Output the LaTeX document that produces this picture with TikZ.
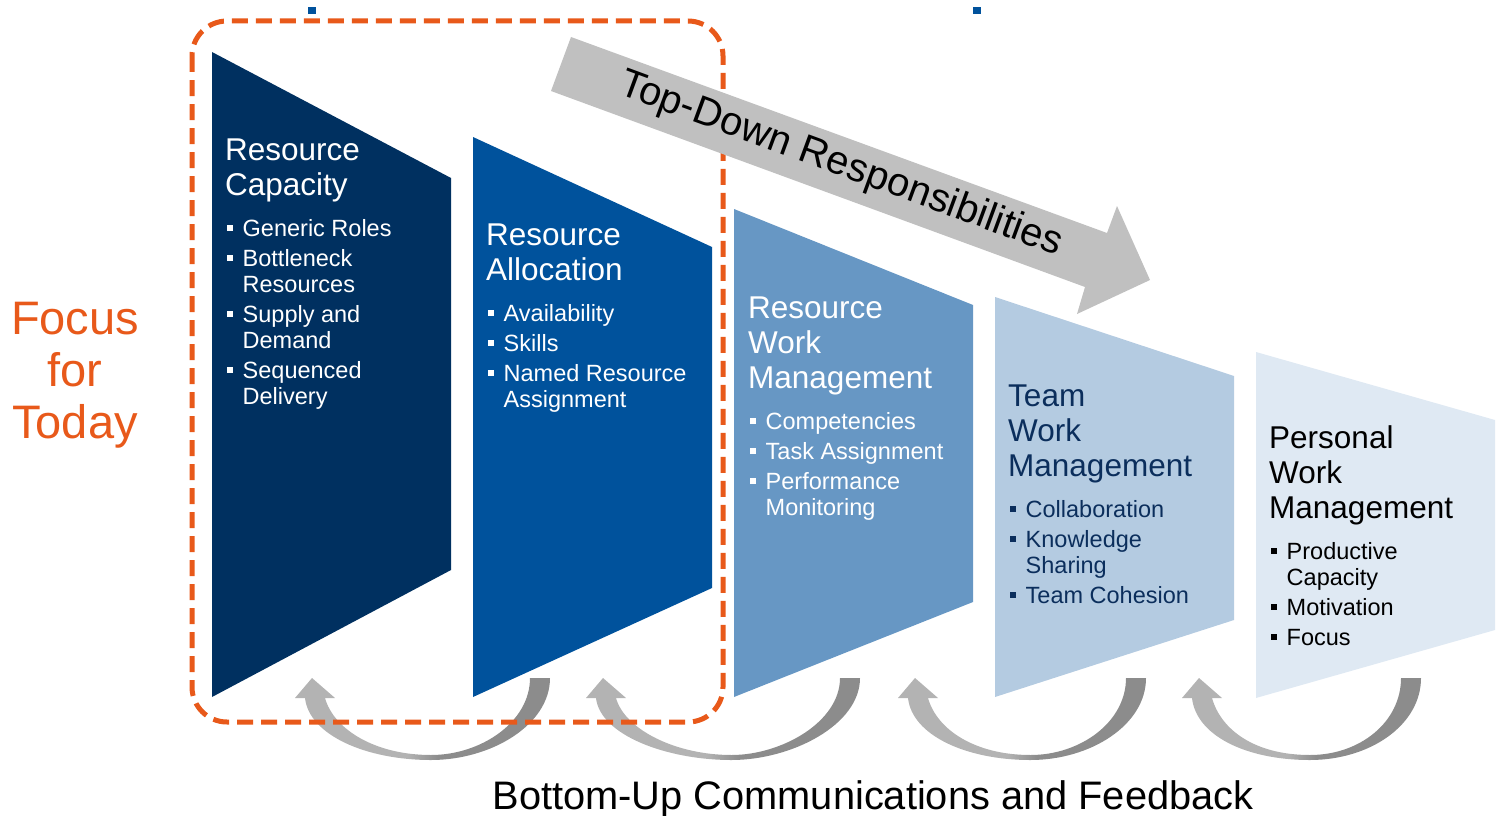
\documentclass[tikz,border=0pt]{standalone}
\usepackage{fontspec}
\setmainfont{Liberation Sans}
\usetikzlibrary{calc}

\definecolor{capblue}{HTML}{003060}
\definecolor{allocblue}{HTML}{00529C}
\definecolor{rwmblue}{HTML}{6797C4}
\definecolor{twmblue}{HTML}{B4CBE1}
\definecolor{pwmblue}{HTML}{DFE9F3}
\definecolor{twmtext}{HTML}{0B2E5C}
\definecolor{focusorange}{HTML}{E8591A}
\definecolor{tdgray}{HTML}{C0C0C0}
\definecolor{fblight}{HTML}{B3B3B3}
\definecolor{fbdark}{HTML}{8C8C8C}
\pgfdeclarehorizontalshading{fbshade}{100bp}{color(0bp)=(fblight); color(47bp)=(fblight); color(53bp)=(fbdark); color(100bp)=(fbdark)}

\newcommand{\ptitle}[1]{{\fontsize{31.5}{35}\selectfont #1\par}\vspace{11pt}\fontsize{23.5}{26}\selectfont\parskip=4pt}
\newcommand{\pitem}[1]{\par\hangindent=17.5pt\hangafter=1\noindent\makebox[17.5pt][l]{\hspace*{1.5pt}\rule[5.5pt]{6pt}{6pt}}#1}
\newcommand{\pbox}[1]{\parbox[t]{300pt}{\parskip=0pt\raggedright #1}}
% feedback arrow: head tip x, tail outer x
\def\fbarrow(#1:#2){%
	\pgfmathsetmacro\fbm{(#1+#2)/2}
	\shade[shading=fbshade] (#2,678) .. controls (#2,725) and (\fbm+60,760) .. (\fbm,760)
		.. controls (\fbm-65,760) and (#1-3,735) .. (#1-7,698) -- (#1-17,698) -- (#1,678) -- (#1+23,698) -- (#1+13,698)
		.. controls (#1+22,730) and (\fbm-55,755) .. (\fbm,755)
		.. controls (\fbm+50,755) and (#2-20,722) .. (#2-20,678) -- cycle;}

\begin{document}
\begin{tikzpicture}[x=1pt, y=-1pt,
	ptext/.style={anchor=base west, inner sep=0pt}]
		%%%%% START %%%%%
		\useasboundingbox (0,0) rectangle (1496,816);
		
		\fbarrow(312:550)
		\fbarrow(603:860)
		\fbarrow(915:1146)
		\fbarrow(1199:1421)
		
		\fill[capblue] (212,52) -- (451,178) -- (451,570) -- (212,697) -- cycle;
		\fill[allocblue] (473,137) -- (712,247) -- (712,588) -- (473,697) -- cycle;
		\fill[rwmblue] (734,209) -- (973,305) -- (973,602) -- (734,697) -- cycle;
		\fill[twmblue] (995,297) -- (1234,376) -- (1234,620) -- (995,697) -- cycle;
		\fill[pwmblue] (1256,352) -- (1495,420) -- (1495,630) -- (1256,698) -- cycle;
		
		\fill[allocblue] (308,7) rectangle (316,14);
		\fill[allocblue] (973,7) rectangle (981,14);
		
		\draw[focusorange, line width=5pt, dash pattern=on 16pt off 8pt, rounded corners=35pt] (192,21) rectangle (723,722);
		
		\fill[tdgray] (571,37) -- (1107,233) -- (1117,206) -- (1150,280) -- (1077,314) -- (1085,287) -- (551,91) -- cycle;
		\node[rotate=-20.2, font=\fontsize{40}{42}\selectfont] (topdown) at (841,165) {Top-Down Responsibilities};
		
		\node[ptext, text=white] (capacity) at (225,160) {\pbox{\ptitle{Resource\\Capacity}
			\pitem{Generic Roles}
			\pitem{Bottleneck\newline Resources}
			\pitem{Supply and\newline Demand}
			\pitem{Sequenced\newline Delivery}}};
		\node[ptext, text=white] (allocation) at (486,245) {\pbox{\ptitle{Resource\\Allocation}
			\pitem{Availability}
			\pitem{Skills}
			\pitem{Named Resource\newline Assignment}}};
		\node[ptext, text=white] (rwm) at (748,318) {\pbox{\ptitle{Resource\\Work\\Management}
			\pitem{Competencies}
			\pitem{Task Assignment}
			\pitem{Performance\newline Monitoring}}};
		\node[ptext, text=twmtext] (twm) at (1008,406) {\pbox{\ptitle{Team\\Work\\Management}
			\pitem{Collaboration}
			\pitem{Knowledge\newline Sharing}
			\pitem{Team Cohesion}}};
		\node[ptext, text=black] (pwm) at (1269,448) {\pbox{\ptitle{Personal\\Work\\Management}
			\pitem{Productive\newline Capacity}
			\pitem{Motivation}
			\pitem{Focus}}};
		
		\node[anchor=base, inner sep=0pt, text=focusorange] (focus) at (75,334) {\parbox[t]{160pt}{\centering\fontsize{47}{52}\selectfont Focus\\for\\Today}};
		\node[anchor=base, inner sep=0pt, font=\fontsize{39.8}{44}\selectfont] (bottomup) at (873,809) {Bottom-Up Communications and Feedback};
		
		%%%%% END %%%%%
\end{tikzpicture}
\end{document}
